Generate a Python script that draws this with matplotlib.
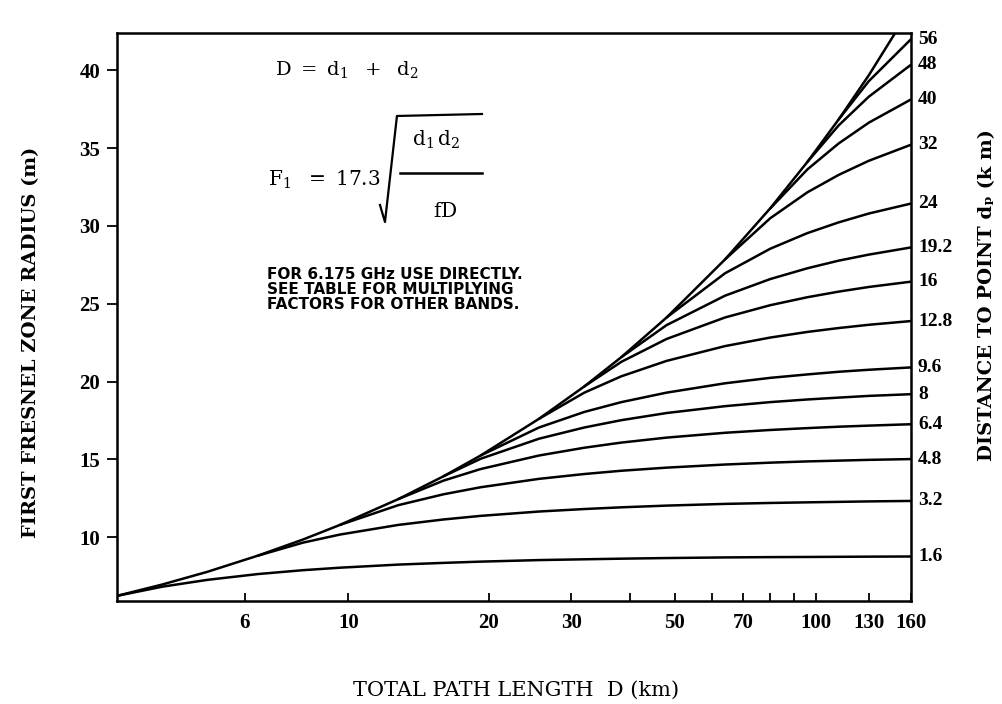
import matplotlib
matplotlib.use("Agg")
import matplotlib.pyplot as plt
from matplotlib.lines import Line2D

plt.rcParams["mathtext.fontset"] = "dejavuserif"

# ---------------- data ----------------
# total path length D (km) at which values were read
path_km = [3.2, 4, 5, 6.4, 8, 9.6, 12.8, 16, 19.2, 25.6, 32, 38.4, 48, 64, 80,
           96, 112, 130, 160]

# upper envelope (point at mid-path)
max_radius = [6.23, 6.96, 7.78, 8.81, 9.85, 10.79, 12.45, 13.92, 15.25, 17.61,
              19.69, 21.57, 24.12, 27.85, 31.14, 34.11, 36.84, 39.69, 44.03]

# first Fresnel zone radius (m) for each distance to point dp;
# each list covers the last len(list) path lengths of path_km
radius_1_6 = [6.23, 6.82, 7.26, 7.63, 7.88, 8.04, 8.24, 8.35, 8.43, 8.53, 8.58,
              8.62, 8.66, 8.70, 8.72, 8.73, 8.74, 8.75, 8.76]
radius_3_2 = [8.81, 9.65, 10.17, 10.79, 11.14, 11.37, 11.65, 11.81, 11.92, 12.03,
              12.14, 12.20, 12.24, 12.27, 12.30, 12.33]
radius_4_8 = [10.79, 12.06, 12.76, 13.21, 13.75, 14.06, 14.27, 14.47, 14.67,
              14.79, 14.87, 14.92, 14.97, 15.02]
radius_6_4 = [12.45, 13.64, 14.38, 15.25, 15.75, 16.08, 16.40, 16.71, 16.89,
              17.01, 17.10, 17.17, 17.26]
radius_8 = [13.92, 15.04, 16.33, 17.05, 17.52, 17.98, 18.42, 18.68, 18.85, 18.97,
            19.08, 19.19]
radius_9_6 = [15.25, 17.05, 18.05, 18.68, 19.29, 19.89, 20.24, 20.46, 20.63,
              20.76, 20.91]
radius_12_8 = [17.61, 19.29, 20.34, 21.33, 22.28, 22.83, 23.19, 23.44, 23.65, 23.89]
radius_16 = [19.69, 21.27, 22.74, 24.12, 24.91, 25.42, 25.78, 26.08, 26.42]
radius_19_2 = [21.57, 23.63, 25.52, 26.59, 27.28, 27.77, 28.16, 28.62]
radius_24 = [24.12, 26.96, 28.54, 29.54, 30.23, 30.80, 31.44]
radius_32 = [27.85, 30.50, 32.16, 33.28, 34.19, 35.22]
radius_40 = [31.13, 33.63, 35.30, 36.64, 38.13]
radius_48 = [34.11, 36.46, 38.31, 40.36]
radius_56 = [36.84, 39.31, 42.00]

point_km = [1.6, 3.2, 4.8, 6.4, 8, 9.6, 12.8, 16, 19.2, 24, 32, 40, 48, 56]
curves = [radius_1_6, radius_3_2, radius_4_8, radius_6_4, radius_8, radius_9_6,
          radius_12_8, radius_16, radius_19_2, radius_24, radius_32, radius_40,
          radius_48, radius_56]

x_major = [6, 10, 20, 30, 50, 70, 100, 130, 160]
x_minor = [40, 60, 80, 90]
y_ticks = [10, 15, 20, 25, 30, 35, 40]

# ---------------- figure ----------------
W, H = 1003, 704
fig = plt.figure(figsize=(W / 100, H / 100), dpi=100)
fig.patch.set_facecolor("white")
L, R, T, B = 117, 911, 33, 601
ax = fig.add_axes([L / W, (H - B) / H, (R - L) / W, (B - T) / H])

NUM = ["Liberation Serif", "DejaVu Serif"]
LAB = ["DejaVu Serif"]

ax.plot(path_km, max_radius, color="black", lw=1.8, solid_capstyle="round")
for d, vals in zip(point_km, curves):
    xs = path_km[-len(vals):]
    ax.plot(xs, vals, color="black", lw=1.8, solid_capstyle="round")
    ax.annotate(f"{d:g}", xy=(xs[-1], vals[-1]), xytext=(5, 0),
                textcoords="offset points", ha="left", va="center",
                fontsize=14, fontweight="bold", family=NUM,
                annotation_clip=False)

ax.set_xscale("log")
ax.set_xlim(3.2, 160)
ax.set_ylim(5.9, 42.4)

ax.set_xticks(x_major)
ax.set_xticklabels([f"{v:g}" for v in x_major])
ax.set_xticks(x_minor, minor=True)
ax.set_xticklabels([], minor=True)
ax.set_yticks(y_ticks)
ax.set_yticklabels([str(v) for v in y_ticks])

ax.tick_params(axis="x", which="both", direction="in", length=6, width=1.3,
               pad=9, top=False)
ax.tick_params(axis="y", which="both", direction="out", length=7, width=1.3,
               pad=5, right=False)
for lab in ax.get_xticklabels() + ax.get_yticklabels():
    lab.set_family(NUM)
    lab.set_fontweight("bold")
    lab.set_fontsize(15)

for s in ax.spines.values():
    s.set_linewidth(1.8)
    s.set_color("black")

# axis titles
ax.text(-0.108, 0.456, "FIRST FRESNEL ZONE RADIUS (m)", transform=ax.transAxes,
        rotation=90, ha="center", va="center", fontsize=14, fontweight="bold",
        family=LAB)
ax.text(0.5025, -0.158, "TOTAL PATH LENGTH  D (km)", transform=ax.transAxes,
        ha="center", va="center", fontsize=15, family=LAB)
ax.text(1.096, 0.539, "DISTANCE TO POINT d\u209a (k m)", transform=ax.transAxes,
        rotation=90, ha="center", va="center", fontsize=14, fontweight="bold",
        family=LAB)

# formulas
ax.text(0.199, 0.935, r"$\mathrm{D\ =\ d_1\ \ +\ \ d_2}$", transform=ax.transAxes,
        ha="left", va="center", fontsize=14)
ax.text(0.190, 0.741, r"$\mathrm{F_1\ \ =\ 17.3}$", transform=ax.transAxes,
        ha="left", va="center", fontsize=14.5)
ax.add_line(Line2D([0.3312, 0.3375, 0.3526, 0.4597],
                   [0.6972, 0.6673, 0.8539, 0.8574],
                   transform=ax.transAxes, color="black", lw=1.6))
ax.add_line(Line2D([0.3564, 0.4597], [0.7535, 0.7535],
                   transform=ax.transAxes, color="black", lw=1.8))
ax.text(0.4018, 0.8116, r"$\mathrm{d_1\,d_2}$", transform=ax.transAxes,
        ha="center", va="center", fontsize=14.5)
ax.text(0.4131, 0.6866, r"$\mathrm{fD}$", transform=ax.transAxes,
        ha="center", va="center", fontsize=14.5)

ax.text(0.189, 0.5875, "FOR 6.175 GHz USE DIRECTLY.\nSEE TABLE FOR MULTIPLYING\n"
        "FACTORS FOR OTHER BANDS.", transform=ax.transAxes, ha="left",
        va="top", fontsize=11, fontweight="bold", family="DejaVu Sans",
        linespacing=0.98)

fig.savefig("out.png", dpi=100, facecolor="white")
